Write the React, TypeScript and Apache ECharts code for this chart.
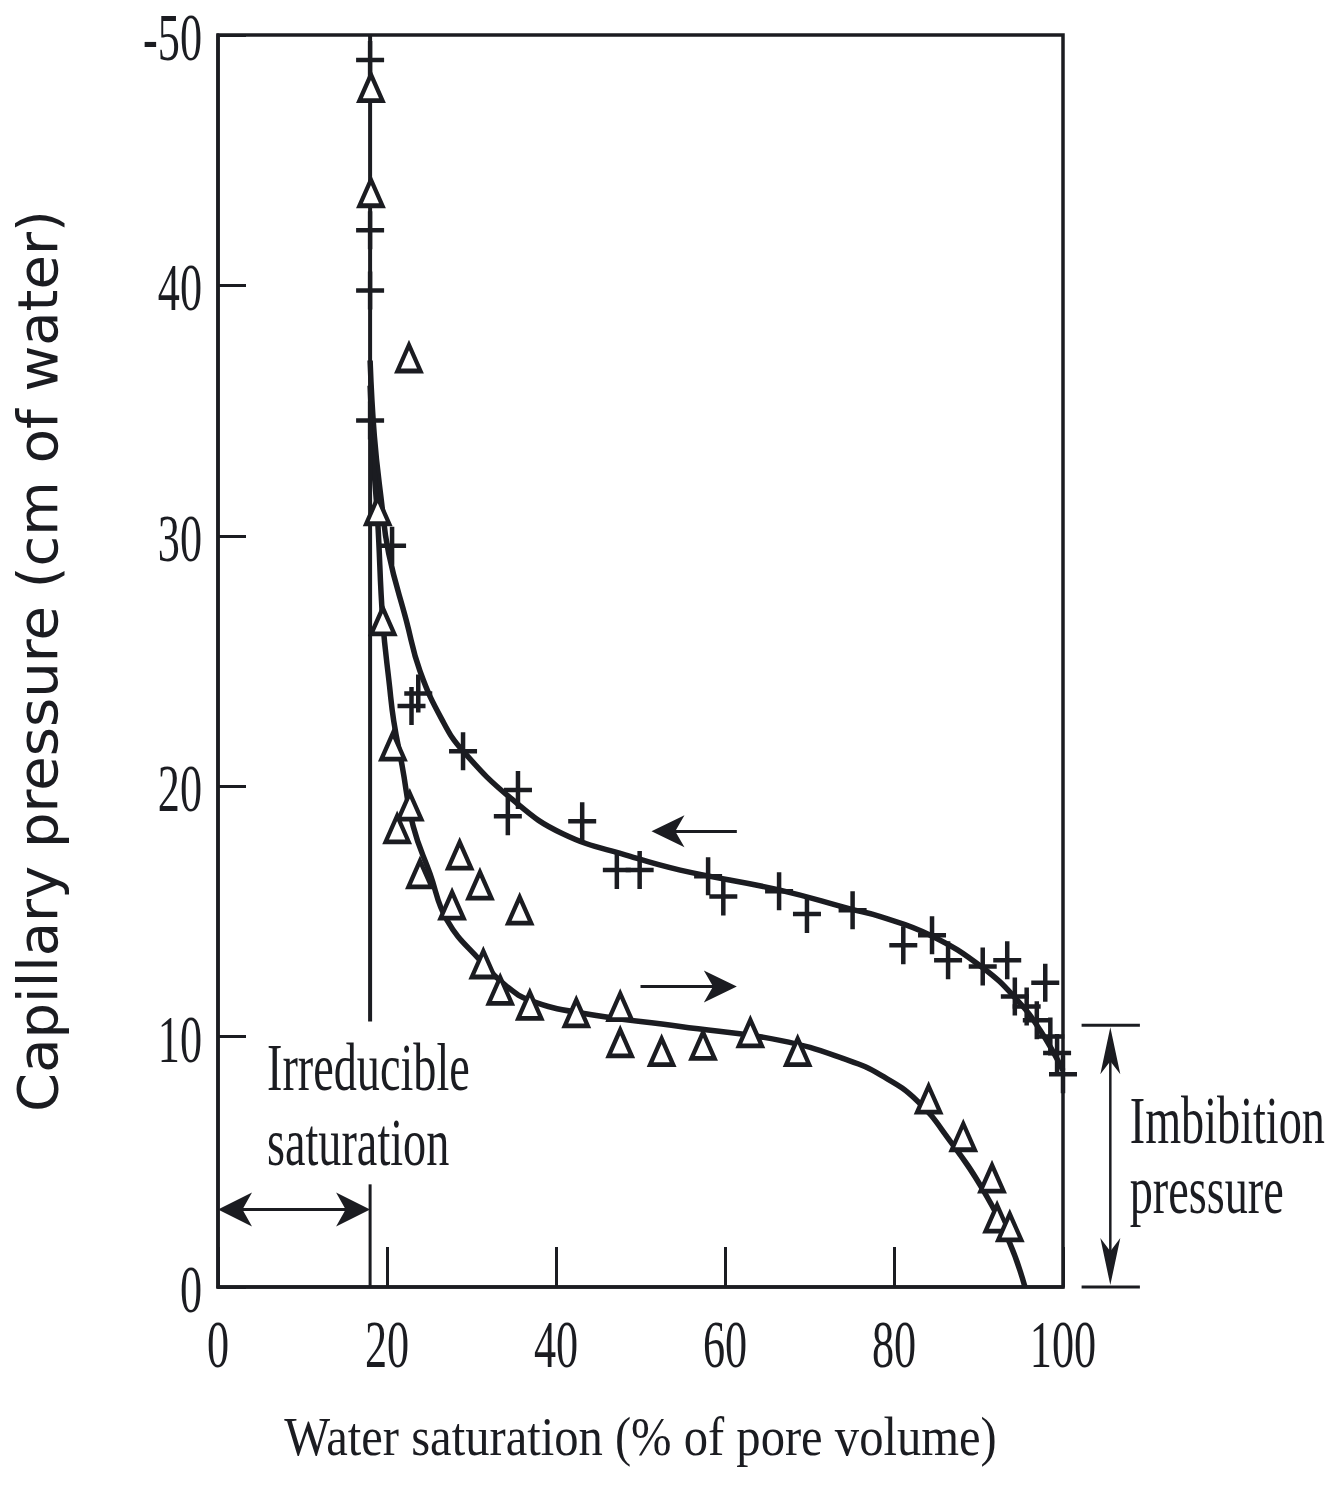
import React, { useEffect, useRef } from "react";
import * as echarts from "echarts";

// ---- data ----
const xTickValues = [0, 20, 40, 60, 80, 100];
const xTickLabels = ["0", "20", "40", "60", "80", "100"];
const yTickValues = [0, 10, 20, 30, 40, 50];
const yTickLabels = ["0", "10", "20", "30", "40", "-50"];

// drainage measurements (+)
const drainagePoints = [
  [18, 49.0], [18, 42.2], [18, 39.8], [18, 34.6], [20.6, 29.6], [22.9, 23.2],
  [23.7, 23.7], [29.0, 21.4], [35.5, 19.85], [34.3, 18.8], [43.1, 18.6],
  [47.2, 16.65], [49.9, 16.65], [58.0, 16.4], [59.8, 15.6], [66.4, 15.8],
  [69.7, 14.9], [75.1, 15.05], [81.1, 13.65], [84.5, 14.05], [86.4, 13.05],
  [90.5, 12.8], [93.4, 13.05], [94.3, 11.6], [95.7, 11.2], [96.9, 10.65],
  [97.9, 12.15], [98.5, 10.0], [99.3, 9.35], [100, 8.5],
];

// imbibition measurements (triangles)
const imbibitionPoints = [
  [18.1, 47.9], [18.1, 43.7], [22.6, 37.1], [18.9, 31.0], [19.5, 26.6],
  [20.7, 21.6], [22.7, 19.2], [21.2, 18.3], [23.9, 16.5], [28.6, 17.25],
  [31.0, 16.05], [27.7, 15.25], [35.7, 15.05], [31.4, 12.9], [33.4, 11.85],
  [36.9, 11.25], [42.4, 10.95], [47.6, 11.2], [47.6, 9.75], [52.5, 9.4],
  [57.4, 9.65], [63.0, 10.15], [68.6, 9.4], [84.1, 7.5], [88.2, 6.0],
  [91.6, 4.35], [92.2, 2.75], [93.7, 2.4],
];

// fitted curves
const drainageCurve = [
  [18, 37], [18.5, 34], [19.3, 31.5], [20.2, 29.3], [22.3, 26.6], [23.9, 24.6],
  [26.6, 22.6], [29.0, 21.4], [34.9, 19.45], [40.8, 18.1], [48.8, 17.2],
  [54.7, 16.65], [66.5, 15.85], [74.8, 15.1], [78.3, 14.8], [84.3, 14.05],
  [90.5, 12.75], [94.6, 11.45], [97.3, 10.25], [100, 8.65],
];
const imbibitionCurve = [
  [18, 36], [18.4, 33], [18.9, 30.6], [19.5, 26.6], [20.3, 24.0], [20.8, 22.6],
  [21.8, 20.8], [23.1, 18.4], [25.1, 16.5], [27.1, 14.65], [31.0, 13.05],
  [34.2, 12.0], [36.9, 11.45], [42.8, 10.95], [54.7, 10.4], [66.5, 9.85],
  [74.6, 9.05], [78.5, 8.45], [82.7, 7.45], [86.6, 5.85], [90.5, 3.9],
  [93.7, 1.75], [95.5, 0],
];

// annotations
const irreducibleSaturation = 18;
const irreducibleLineUpper = [[18, 50], [18, 10.6]];
const irreducibleLineLower = [[18, 4.1], [18, 0]];
const irreducibleArrowY = 3.1;
const drainageArrow = { from: 61.4, to: 51.3, y: 18.2 };
const imbibitionArrow = { from: 52.0, to: 61.4, y: 12.0 };
const imbibitionPressure = 10.45;
const bracketX = { left: 102.2, right: 109.1, mid: 105.6 };
const irreducibleLabel = { x: 5.8, lines: ["Irreducible", "saturation"], ys: [8.79, 5.79] };
const imbibitionLabel = { x: 107.9, lines: ["Imbibition", "pressure"], ys: [6.67, 3.87] };

const INK = "#1b1c21";
const PLUS =
  "path://M11.75,0H16.25V16.75H28V21.25H16.25V38H11.75V21.25H0V16.75H11.75Z";

export default function App() {
  const ref = useRef<HTMLDivElement>(null);
  useEffect(() => {
    const chart = echarts.init(ref.current!, null, { renderer: "svg" });
    const option: any = {
      animation: false,
      backgroundColor: "#ffffff",
      grid: {
        left: 218, right: 273, top: 35, bottom: 206,
        show: true, borderColor: INK, borderWidth: 3.5, backgroundColor: "transparent",
      },
      xAxis: {
        type: "value", min: 0, max: 100, interval: 20,
        axisLine: { show: true, lineStyle: { color: INK, width: 3.5 } },
        axisTick: { show: true, inside: true, length: 40, lineStyle: { color: INK, width: 3 } },
        axisLabel: { show: false },
        splitLine: { show: false },
      },
      yAxis: {
        type: "value", min: 0, max: 50, interval: 10,
        axisLine: { show: true, lineStyle: { color: INK, width: 3.5 } },
        axisTick: { show: true, inside: true, length: 28, lineStyle: { color: INK, width: 3 } },
        axisLabel: { show: false },
        splitLine: { show: false },
      },
      series: [
        {
          type: "line", data: drainageCurve, smooth: 0.45,
          showSymbol: false, silent: true, z: 2,
          lineStyle: { color: INK, width: 5.5 },
        },
        {
          type: "line", data: imbibitionCurve, smooth: 0.45,
          showSymbol: false, silent: true, z: 2,
          lineStyle: { color: INK, width: 5.5 },
        },
        {
          type: "line", data: irreducibleLineUpper, showSymbol: false, silent: true, z: 2,
          lineStyle: { color: INK, width: 4 },
          markLine: {
            silent: true,
            symbol: ["none", "none"],
            label: { show: false },
            lineStyle: { color: INK, width: 3, type: "solid" },
            emphasis: { disabled: true },
            data: [
              [{ coord: [drainageArrow.from, drainageArrow.y] }, { coord: [drainageArrow.to + 2, drainageArrow.y] }],
              [{ coord: [imbibitionArrow.from - 2, imbibitionArrow.y] }, { coord: [imbibitionArrow.to - 2, imbibitionArrow.y] }],
              [{ coord: [1, irreducibleArrowY] }, { coord: [irreducibleSaturation - 1, irreducibleArrowY] }],
            ],
          },
        },
        {
          type: "line", data: irreducibleLineLower, showSymbol: false, silent: true, z: 2,
          lineStyle: { color: INK, width: 3 },
        },
        {
          type: "scatter", data: drainagePoints, symbol: PLUS, symbolSize: [28, 38],
          itemStyle: { color: INK, opacity: 1 }, silent: true, z: 5,
        },
        {
          type: "scatter", data: imbibitionPoints, symbol: "triangle", symbolSize: [23, 26],
          itemStyle: { color: "#ffffff", borderColor: INK, borderWidth: 4.5, opacity: 1 }, silent: true, z: 6,
        },
      ],
    };
    chart.setOption(option);

    const px = (v: number) => chart.convertToPixel({ xAxisIndex: 0 }, v) as number;
    const py = (v: number) => chart.convertToPixel({ yAxisIndex: 0 }, v) as number;

    const digitFont = { fontFamily: "Liberation Serif", fontSize: 67, fill: INK };
    const textFont = { fontFamily: "Liberation Serif", fontSize: 68, fill: INK };
    const graphics: any[] = [];

    yTickValues.forEach((v, i) => {
      graphics.push({
        type: "text", x: px(0) - 16, y: py(v) + 2, scaleX: 0.66, silent: true,
        style: { ...digitFont, text: yTickLabels[i], align: "right", verticalAlign: "middle" },
      });
    });
    xTickValues.forEach((v, i) => {
      graphics.push({
        type: "text", x: px(v), y: py(0) + 57, scaleX: 0.66, silent: true,
        style: { ...digitFont, text: xTickLabels[i], align: "center", verticalAlign: "middle" },
      });
    });

    // axis titles
    graphics.push({
      type: "text", x: 37, y: py(25), rotation: Math.PI / 2, silent: true,
      style: {
        text: "Capillary pressure (cm of water)", fontFamily: "DejaVu Sans", fontSize: 56,
        fill: INK, align: "center", verticalAlign: "middle",
      },
    });
    graphics.push({
      type: "text", x: px(50), y: py(0) + 150, scaleX: 0.9, silent: true,
      style: {
        text: "Water saturation (% of pore volume)", fontFamily: "Liberation Serif", fontSize: 54,
        fill: INK, align: "center", verticalAlign: "middle",
      },
    });

    // annotation labels
    [irreducibleLabel, imbibitionLabel].forEach((lab) => {
      lab.lines.forEach((t, i) => {
        graphics.push({
          type: "text", x: px(lab.x), y: py(lab.ys[i]), scaleX: 0.68, silent: true,
          style: { ...textFont, text: t, align: "left", verticalAlign: "middle" },
        });
      });
    });

    // dart-shaped arrow head: tip at (tx, ty), pointing along (dx, dy)
    const head = (tx: number, ty: number, dx: number, dy: number, L: number, W: number) => {
      const nx = -dy, ny = dx;
      const bx = tx - dx * L, by = ty - dy * L;
      return {
        type: "polygon", silent: true, z: 10,
        shape: {
          points: [
            [tx, ty],
            [bx + nx * W, by + ny * W],
            [tx - dx * L * 0.72, ty - dy * L * 0.72],
            [bx - nx * W, by - ny * W],
          ],
        },
        style: { fill: INK },
      };
    };

    graphics.push(head(px(drainageArrow.to), py(drainageArrow.y), -1, 0, 33, 16));
    graphics.push(head(px(imbibitionArrow.to), py(imbibitionArrow.y), 1, 0, 33, 16));
    graphics.push(head(px(0), py(irreducibleArrowY), -1, 0, 34, 17));
    graphics.push(head(px(irreducibleSaturation), py(irreducibleArrowY), 1, 0, 34, 17));

    // imbibition pressure bracket
    const xl = px(bracketX.left), xr = px(bracketX.right), xm = px(bracketX.mid);
    const yt = py(imbibitionPressure), yb = py(0);
    const lineStyle = { stroke: INK, lineWidth: 3 };
    graphics.push({ type: "line", silent: true, shape: { x1: xl, y1: yt, x2: xr, y2: yt }, style: lineStyle });
    graphics.push({ type: "line", silent: true, shape: { x1: xl, y1: yb, x2: xr, y2: yb }, style: lineStyle });
    graphics.push({ type: "line", silent: true, shape: { x1: xm, y1: yt + 10, x2: xm, y2: yb - 10 }, style: { stroke: INK, lineWidth: 2.5 } });
    graphics.push(head(xm, yt + 2, 0, -1, 47, 10));
    graphics.push(head(xm, yb - 2, 0, 1, 47, 10));

    chart.setOption({ graphic: graphics });
    return () => chart.dispose();
  }, []);
  return (
    <div
      ref={ref}
      style={{ position: "fixed", left: 0, top: 0, width: 1336, height: 1493, background: "#fff" }}
    />
  );
}
